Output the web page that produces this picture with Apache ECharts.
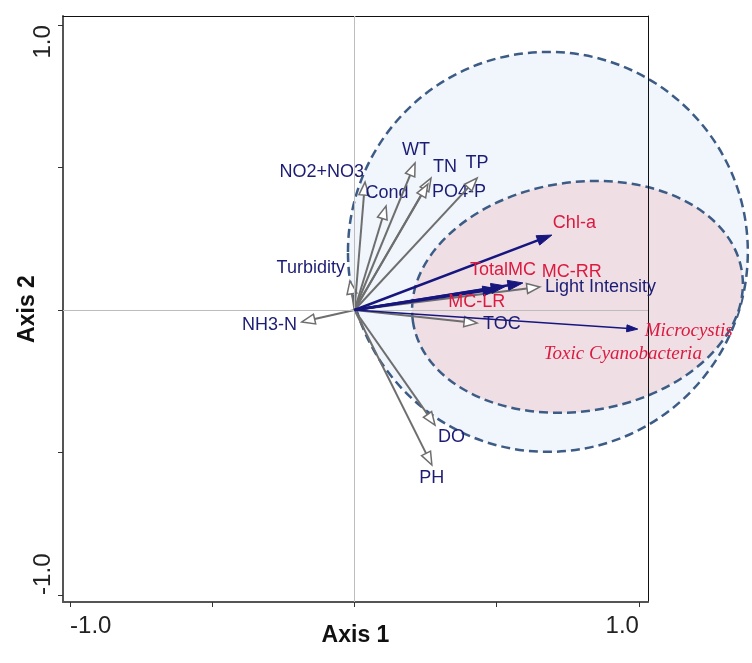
<!DOCTYPE html>
<html><head><meta charset="utf-8">
<script src="https://cdn.jsdelivr.net/npm/echarts@6/dist/echarts.min.js"></script>
<style>html,body{margin:0;padding:0;background:#fff}#c{width:752px;height:663px}</style>
</head><body><div id="c"></div>
<script>
// ---- data ----
const envNames = ['NH3-N','Turbidity','NO2+NO3','Cond','WT','TN','PO4-P','TP','Light Intensity','TOC','DO','PH'];
const envX = [-0.185, -0.016, 0.037, 0.111, 0.213, 0.269, 0.258, 0.431, 0.652, 0.431, 0.283, 0.272];
const envY = [-0.042, 0.102, 0.449, 0.365, 0.516, 0.463, 0.442, 0.463, 0.081, -0.046, -0.404, -0.544];
const respNames = ['Chl-a','TotalMC','MC-RR','MC-LR','Microcystis'];
const respX = [0.694, 0.533, 0.592, 0.504, 0.996];
const respY = [0.263, 0.084, 0.095, 0.074, -0.067];
const groupLabel = 'Toxic Cyanobacteria';
// ellipses (centre x, centre y, semi-axis x, semi-axis y, tilt in degrees) in axis units
const ellCx = [0.680, 0.784];
const ellCy = [0.204, 0.046];
const ellRx = [0.703, 0.585];
const ellRy = [0.702, 0.402];
const ellTilt = [0, 8.6];
const tickValues = [-1, -0.5, 0, 0.5, 1];
const tickLabels = [-1, 1];

// ---- layout / style (pixel offsets of labels from arrow tips) ----
const labelLayout = {
  'NH3-N': [-5, 3, 'right'], 'Turbidity': [-5, -13, 'right'], 'NO2+NO3': [-1, -10, 'right'],
  'Cond': [1, -13, 'center'], 'WT': [1, -13, 'center'], 'TN': [2, -11, 'left'],
  'PO4-P': [4, 8, 'left'], 'TP': [0, -15, 'center'], 'Light Intensity': [5, 0, 'left'],
  'TOC': [6, 1, 'left'], 'DO': [3, 12, 'left'], 'PH': [0, 13, 'center'],
  'Chl-a': [1, -12, 'left'], 'TotalMC': [-3, -16, 'center'], 'MC-RR': [19, -11, 'left'],
  'MC-LR': [-21, 13, 'center'], 'Microcystis': [7, 2, 'left']
};
const groupLabelOffset = [-94, 25];
const SANS = '"Liberation Sans", Arial, sans-serif';
const SERIF = '"Liberation Serif", "Times New Roman", serif';
const NAVY = '#1c1c74', RED = '#dc1a40', GRAY = '#6e6e6e';

function makeArrow(names, st) {
  return function (params, api) {
    const name = names[params.dataIndex];
    const o = api.coord([0, 0]);
    const t = api.coord([api.value(0), api.value(1)]);
    const dx = t[0] - o[0], dy = t[1] - o[1];
    const len = Math.hypot(dx, dy);
    const ux = dx / len, uy = dy / len, nx = -uy, ny = ux;
    const L = st.headLen(name), W = st.headW(name);
    const bx = t[0] - ux * L, by = t[1] - uy * L;
    const lay = labelLayout[name];
    const children = [
      {type: 'line', shape: {x1: o[0], y1: o[1], x2: bx + ux * st.overlap, y2: by + uy * st.overlap},
       style: {stroke: st.color, lineWidth: st.lw(name)}},
      {type: 'polygon', shape: {points: [[t[0], t[1]], [bx + nx * W / 2, by + ny * W / 2], [bx - nx * W / 2, by - ny * W / 2]]},
       style: {fill: st.headFill, stroke: st.color, lineWidth: st.headLw, lineJoin: 'miter'}},
      {type: 'text', x: t[0] + lay[0], y: t[1] + lay[1],
       style: {text: name, fill: st.labelColor(name), font: st.font(name), align: lay[2], verticalAlign: 'middle'}}
    ];
    if (name === 'Microcystis') {
      children.push({type: 'text', x: t[0] + groupLabelOffset[0], y: t[1] + groupLabelOffset[1],
        style: {text: groupLabel, fill: RED, font: 'italic 19px ' + SERIF, align: 'left', verticalAlign: 'middle'}});
    }
    return {type: 'group', children};
  };
}

const envStyle = {
  color: GRAY, headFill: '#ffffff', headLw: 1.5, overlap: 0,
  headLen: () => 13, headW: () => 10, lw: () => 2,
  labelColor: () => NAVY, font: () => '18px ' + SANS
};
const respStyle = {
  color: '#16167e', headFill: '#16167e', headLw: 1, overlap: 2,
  headLen: n => n === 'Microcystis' ? 11 : 15, headW: n => n === 'Microcystis' ? 7 : 10,
  lw: n => n === 'Microcystis' ? 1.5 : 2.5,
  labelColor: () => RED,
  font: n => n === 'Microcystis' ? 'italic 19px ' + SERIF : '18px ' + SANS
};

const ellFill = ['#f1f6fc', '#efdfe5'];
const ellipseData = ellCx.map((c, i) => [c, ellCy[i], ellRx[i], ellRy[i], ellTilt[i]]);

const chart = echarts.init(document.getElementById('c'), null, {renderer: 'canvas'});
const XMIN = -1.025, XMAX = 1.032, YMIN = -1.025, YMAX = 1.032;
chart.setOption({
  animation: false,
  grid: {left: 63, top: 16, width: 585, height: 586, containLabel: false, outerBoundsMode: 'none'},
  xAxis: [{
    type: 'value', min: XMIN, max: XMAX, z: 3,
    axisLine: {show: true, onZero: false, lineStyle: {color: '#555', width: 2}},
    axisTick: {show: true, customValues: tickValues, length: 5, lineStyle: {color: '#333', width: 1}},
    axisLabel: {customValues: tickLabels, formatter: v => v.toFixed(1), fontSize: 24, color: '#222',
      fontFamily: SANS, margin: 12, alignMinLabel: 'left', alignMaxLabel: 'right'},
    splitLine: {show: false},
    name: 'Axis 1', nameLocation: 'middle', nameGap: 22, nameMoveOverlap: false,
    nameTextStyle: {fontWeight: 'bold', fontSize: 23, color: '#111', fontFamily: SANS}
  }, {
    type: 'value', min: XMIN, max: XMAX, position: 'top', z: 3,
    axisLine: {show: true, onZero: false, lineStyle: {color: '#111', width: 1}},
    axisTick: {show: false}, axisLabel: {show: false}, splitLine: {show: false}
  }],
  yAxis: [{
    type: 'value', min: YMIN, max: YMAX, z: 3,
    axisLine: {show: true, onZero: false, lineStyle: {color: '#555', width: 2}},
    axisTick: {show: true, customValues: tickValues, length: 5, lineStyle: {color: '#333', width: 1}},
    axisLabel: {customValues: tickLabels, formatter: v => v.toFixed(1), fontSize: 24, color: '#222',
      fontFamily: SANS, margin: 8, rotate: 90, alignMinLabel: 'left', alignMaxLabel: 'right'},
    splitLine: {show: false},
    name: 'Axis 2', nameLocation: 'middle', nameGap: 24, nameMoveOverlap: false,
    nameTextStyle: {fontWeight: 'bold', fontSize: 23, color: '#111', fontFamily: SANS}
  }, {
    type: 'value', min: YMIN, max: YMAX, position: 'right', z: 3,
    axisLine: {show: true, onZero: false, lineStyle: {color: '#111', width: 1}},
    axisTick: {show: false}, axisLabel: {show: false}, splitLine: {show: false}
  }],
  series: [
    {
      type: 'custom', name: 'ellipses', z: 1, clip: false, silent: true,
      data: ellipseData, encode: {x: 0, y: 1},
      renderItem: function (params, api) {
        const c = api.coord([api.value(0), api.value(1)]);
        const s = api.size([api.value(2), api.value(3)]);
        return {type: 'ellipse', shape: {cx: c[0], cy: c[1], rx: s[0], ry: s[1]},
          rotation: api.value(4) * Math.PI / 180, originX: c[0], originY: c[1],
          style: {fill: ellFill[params.dataIndex], stroke: '#3d5c85', lineWidth: 2.5, lineDash: [9, 5]}};
      }
    },
    {
      type: 'line', name: 'zero', z: 2, data: [], silent: true,
      markLine: {silent: true, symbol: 'none', label: {show: false},
        lineStyle: {color: '#bdbdbd', width: 1, type: 'solid'},
        data: [{xAxis: 0}, {yAxis: 0}]}
    },
    {
      type: 'custom', name: 'env', z: 4, clip: false,
      data: envNames.map((n, i) => [envX[i], envY[i]]), encode: {x: 0, y: 1},
      renderItem: makeArrow(envNames, envStyle)
    },
    {
      type: 'custom', name: 'resp', z: 5, clip: false,
      data: respNames.map((n, i) => [respX[i], respY[i]]), encode: {x: 0, y: 1},
      renderItem: makeArrow(respNames, respStyle)
    }
  ]
});
</script>
</body></html>
